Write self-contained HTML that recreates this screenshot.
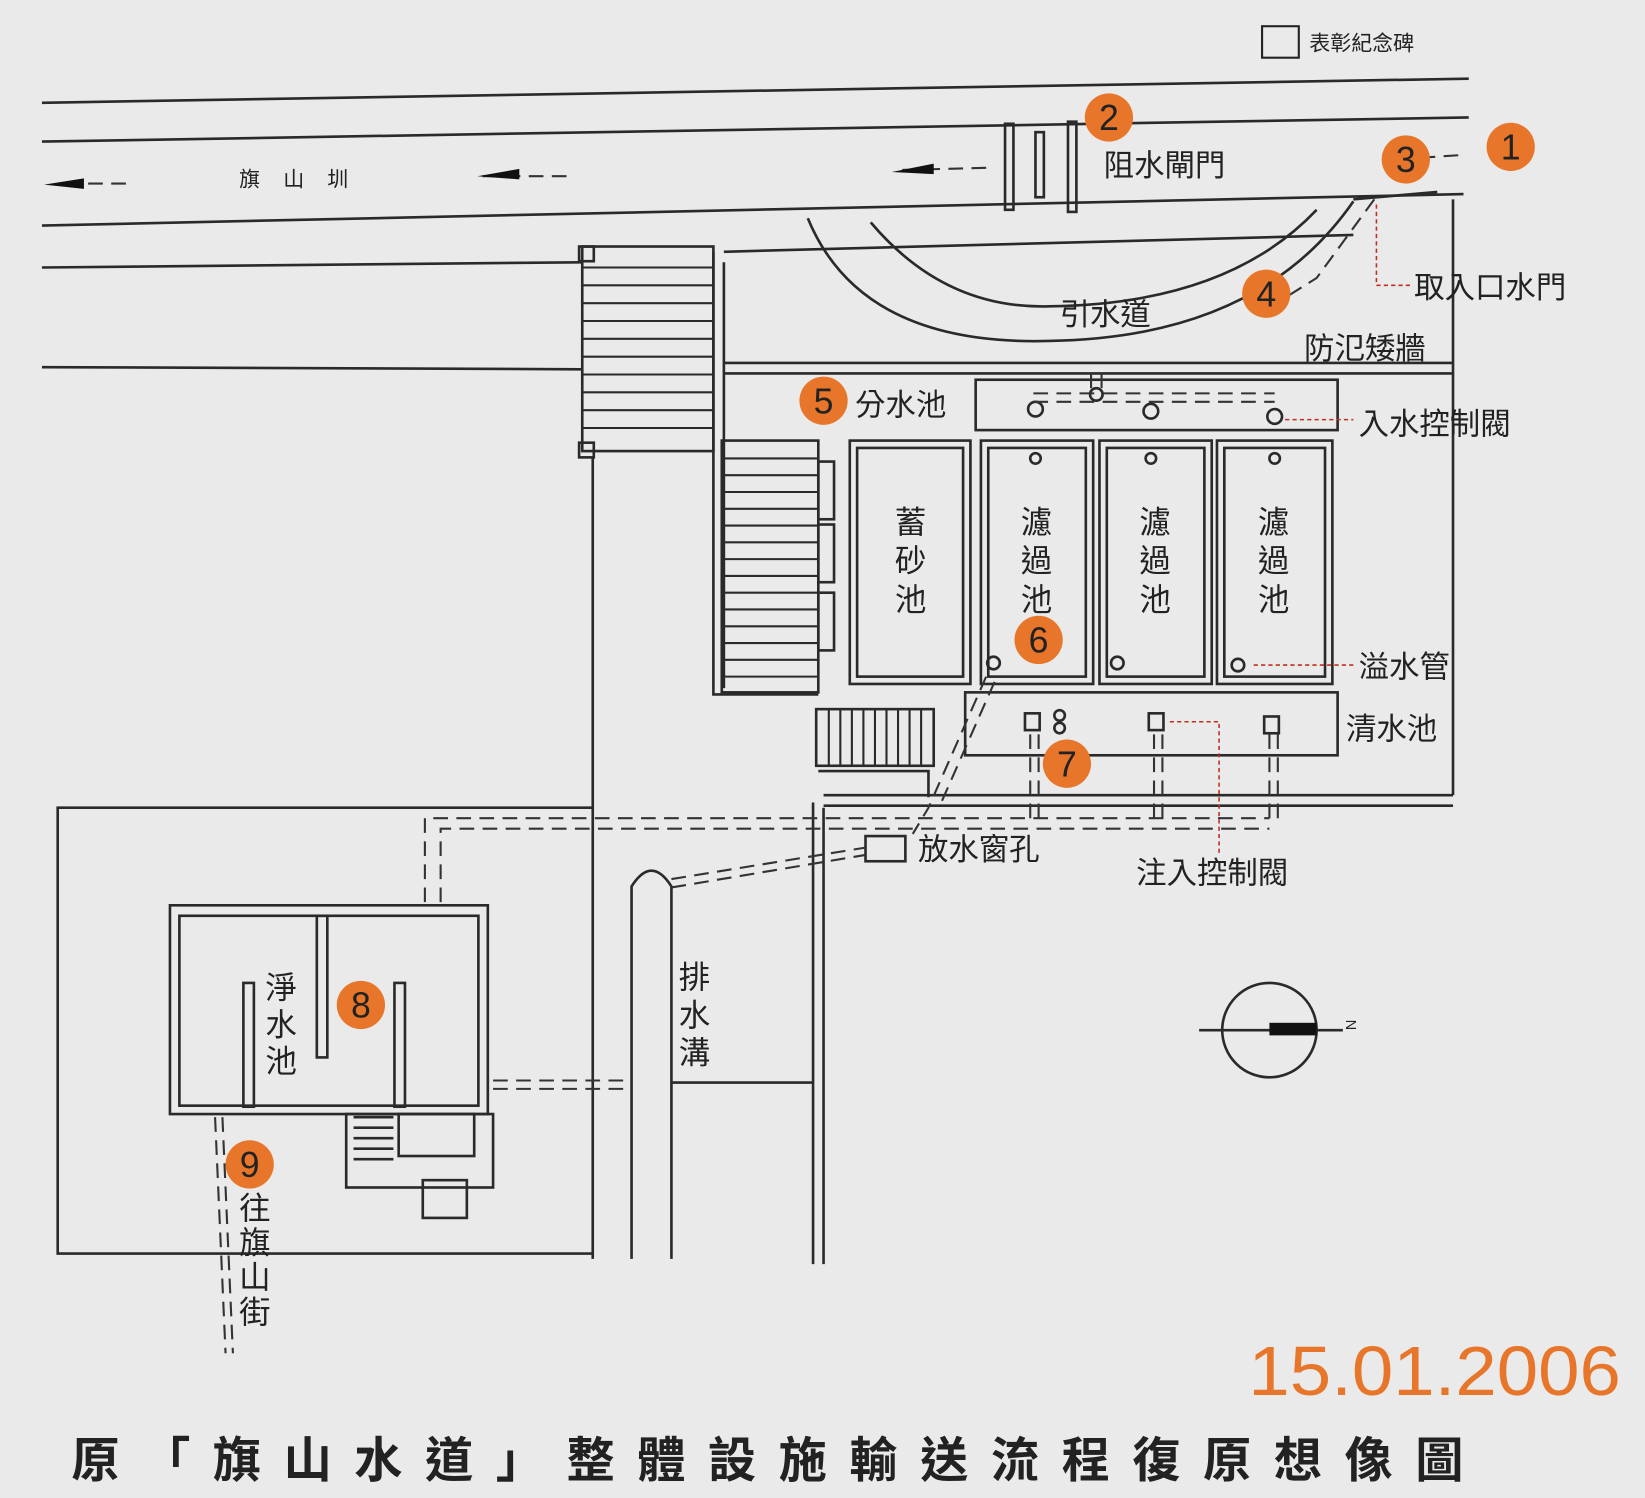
<!DOCTYPE html>
<html><head><meta charset="utf-8"><style>
html,body{margin:0;padding:0;background:#e8e9e8;}
svg{display:block}
text{font-family:"Liberation Sans","Noto Sans CJK TC",sans-serif;fill:#222}
</style></head><body>
<svg width="1645" height="1498" viewBox="0 0 1568 1428" preserveAspectRatio="none" xmlns="http://www.w3.org/2000/svg">
<rect width="1568" height="1428" fill="#e9eae9"/>
<g stroke="#2a2a2a" stroke-width="2.5" fill="none">
<path d="M40 98 L1400 75"/>
<path d="M40 135 L1400 112"/>
<path d="M40 215 L1395 185"/>
<path d="M40 255 L555 250"/>
<path d="M40 350 L555 352"/>
<rect x="958" y="118" width="8" height="82"/>
<rect x="1018" y="116" width="8" height="86"/>
<rect x="987" y="126" width="8" height="62"/>
<path d="M1290 190 L1370 183"/>
<path d="M770 208 Q820 330 1000 325 Q1200 322 1290 192" />
<path d="M830 212 Q900 295 1000 292 Q1170 290 1255 200" />
<path d="M690 240 L1290 224"/>
<path d="M690 346 L1385 346"/>
<path d="M690 356 L1385 356"/>
<path d="M1385 190 L1385 758"/>
<path d="M680 240 L680 662 L780 662"/>
<path d="M690 250 L690 656"/>
<rect x="555" y="235" width="125" height="195"/>
<rect x="552" y="422" width="14" height="14"/>
<rect x="552" y="235" width="14" height="14"/>
<path d="M565 436 L565 1200"/>
<path d="M775 765 L775 1205"/>
<path d="M785 770 L785 1205"/>
<rect x="688" y="420" width="92" height="240"/>
<rect x="780" y="440" width="15" height="55"/>
<rect x="780" y="500" width="15" height="55"/>
<rect x="780" y="565" width="15" height="55"/>
<rect x="778" y="676" width="112" height="54"/>
<rect x="810" y="420" width="115" height="232"/><rect x="817" y="427" width="101" height="218"/>
<rect x="935" y="420" width="107" height="232"/><rect x="942" y="427" width="93" height="218"/>
<rect x="1048" y="420" width="107" height="232"/><rect x="1055" y="427" width="93" height="218"/>
<rect x="1160" y="420" width="110" height="232"/><rect x="1167" y="427" width="96" height="218"/>
<rect x="930" y="362" width="345" height="48"/>
<rect x="920" y="660" width="355" height="60"/>
<path d="M780 735 L885 735 L885 760"/>
<path d="M785 758 L1385 758"/>
<path d="M785 768 L1385 768"/>
<circle cx="987" cy="390" r="7"/><circle cx="1097" cy="392" r="7"/><circle cx="1215" cy="397" r="7"/><circle cx="1045" cy="376" r="6"/>
<circle cx="987" cy="437" r="5"/><circle cx="1097" cy="437" r="5"/><circle cx="1215" cy="437" r="5"/>
<circle cx="947" cy="632" r="6"/><circle cx="1065" cy="632" r="6"/><circle cx="1180" cy="634" r="6"/>
<rect x="977" y="680" width="14" height="16"/><rect x="1095" y="680" width="14" height="16"/><rect x="1205" y="683" width="14" height="16"/>
<circle cx="1010" cy="682" r="5"/><circle cx="1010" cy="694" r="5"/>
<path d="M565 770 L55 770 L55 1195 L565 1195"/>
<rect x="162" y="863" width="303" height="199"/>
<rect x="171" y="873" width="285" height="181"/>
<rect x="302" y="873" width="10" height="135"/>
<rect x="232" y="937" width="10" height="118"/>
<rect x="376" y="937" width="10" height="118"/>
<rect x="330" y="1062" width="140" height="70"/>
<rect x="380" y="1062" width="72" height="40"/>
<rect x="403" y="1125" width="42" height="36"/>
<path d="M337 1065 L375 1065 M337 1075 L375 1075 M337 1085 L375 1085 M337 1095 L375 1095 M337 1105 L375 1105"/>
<path d="M602 1200 L602 845 Q621 815 640 845 L640 1200"/>
<path d="M640 1032 L775 1032"/>
<rect x="825" y="797" width="38" height="24"/>
<circle cx="1210" cy="982" r="45"/>
<path d="M1143 982 L1280 982"/>
</g>
<g stroke="#2a2a2a" stroke-width="2">
<path d="M555 255H680M555 272H680M555 289H680M555 306H680M555 323H680M555 340H680M555 357H680M555 374H680M555 391H680M555 408H680"/>
<path d="M688 437H780M688 453H780M688 469H780M688 485H780M688 501H780M688 517H780M688 533H780M688 549H780M688 565H780M688 581H780M688 597H780M688 613H780M688 629H780M688 645H780"/>
<path d="M790 676V730M801 676V730M812 676V730M823 676V730M834 676V730M845 676V730M856 676V730M867 676V730M878 676V730"/>
</g>
<rect x="1210" y="975" width="45" height="12" fill="#111"/>
<text x="1282" y="987" font-size="14" transform="rotate(90 1290 980)">N</text>
<g stroke="#333" stroke-width="2" stroke-dasharray="14 8" fill="none">
<path d="M1040 356 L1040 380 M1050 356 L1050 380"/>
<path d="M985 375 L1215 375 M985 383 L1215 383"/>
<path d="M940 645 L885 770 L870 795 M948 650 L895 770"/>
<path d="M982 700 L982 780 M1100 700 L1100 780 M1210 700 L1210 780 M990 700 L990 780 M1108 700 L1108 780 M1218 700 L1218 780"/>
<path d="M405 860 L405 780 L1210 780 M420 860 L420 790 L1210 790"/>
<path d="M640 838 L825 808 M640 846 L825 815"/>
<path d="M470 1030 L600 1030 M470 1038 L600 1038"/>
<path d="M205 1065 L215 1290 M212 1065 L222 1290"/>
<path d="M1310 190 L1255 265 L1215 290"/>
<path d="M120 175 L60 175 M540 168 L460 168 M940 160 L860 162 M1390 148 L1360 150"/>
</g>
<g fill="#111">
<polygon points="42,176 80,170 80,180"/>
<polygon points="455,168 495,161 495,171"/>
<polygon points="850,164 890,156 890,166"/>
</g>
<g stroke="#c03020" stroke-width="1.5" stroke-dasharray="4 3" fill="none">
<path d="M1312 195 L1312 272 L1345 272"/>
<path d="M1225 400 L1290 400"/>
<path d="M1195 634 L1290 634"/>
<path d="M1115 688 L1162 688 L1162 815"/>
</g>
<rect x="1203" y="25" width="35" height="30" fill="none" stroke="#222" stroke-width="2"/>
<text x="1248" y="48" font-size="20">表彰紀念碑</text>
<g fill="#e8762a">
<circle cx="1440" cy="140" r="23"/><circle cx="1057" cy="112" r="23"/><circle cx="1340" cy="152" r="23"/>
<circle cx="1207" cy="280" r="23"/><circle cx="785" cy="382" r="23"/><circle cx="990" cy="610" r="23"/>
<circle cx="1017" cy="728" r="23"/><circle cx="344" cy="958" r="23"/><circle cx="238" cy="1110" r="23"/>
</g>
<g font-size="34" text-anchor="middle">
<text x="1440" y="152">1</text><text x="1057" y="124">2</text><text x="1340" y="164">3</text>
<text x="1207" y="292">4</text><text x="785" y="394">5</text><text x="990" y="622">6</text>
<text x="1017" y="740">7</text><text x="344" y="970">8</text><text x="238" y="1122">9</text>
</g>
<g font-size="29">
<text x="1052" y="168">阻水閘門</text>
<text x="1348" y="284">取入口水門</text>
<text x="1010" y="310">引水道</text>
<text x="1243" y="342">防氾矮牆</text>
<text x="815" y="396">分水池</text>
<text x="1295" y="414">入水控制閥</text>
<text x="1295" y="646">溢水管</text>
<text x="1283" y="705">清水池</text>
<text x="875" y="820">放水窗孔</text>
<text x="1083" y="842">注入控制閥</text>
</g>
<text x="228" y="178" font-size="20" letter-spacing="22">旗山圳</text>
<g font-size="30" text-anchor="middle">
<text x="868" y="508">蓄</text><text x="868" y="545">砂</text><text x="868" y="582">池</text>
<text x="988" y="508">濾</text><text x="988" y="545">過</text><text x="988" y="582">池</text>
<text x="1101" y="508">濾</text><text x="1101" y="545">過</text><text x="1101" y="582">池</text>
<text x="1214" y="508">濾</text><text x="1214" y="545">過</text><text x="1214" y="582">池</text>
<text x="268" y="952">淨</text><text x="268" y="987">水</text><text x="268" y="1022">池</text>
<text x="662" y="942">排</text><text x="662" y="978">水</text><text x="662" y="1014">溝</text>
<text x="243" y="1162">往</text><text x="243" y="1195">旗</text><text x="243" y="1228">山</text><text x="243" y="1261">街</text>
</g>
<text x="1190" y="1330" font-size="66" style="fill:#e8762a" textLength="355" lengthAdjust="spacingAndGlyphs">15.01.2006</text>
<text x="68" y="1408" font-size="46" font-weight="bold" textLength="1327" lengthAdjust="spacing">原「旗山水道」整體設施輸送流程復原想像圖</text>
</svg>
</body></html>
